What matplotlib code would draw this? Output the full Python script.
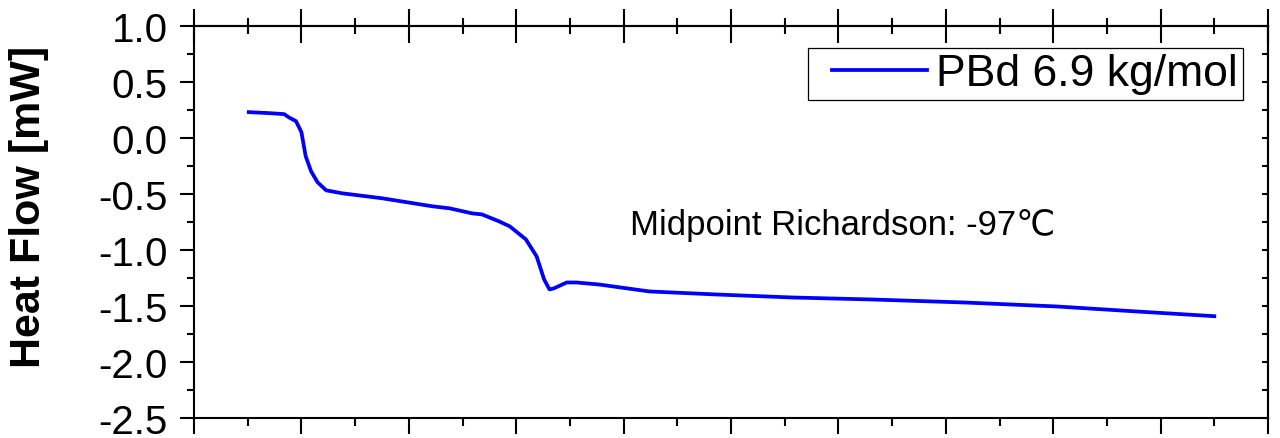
import matplotlib.pyplot as plt
from matplotlib.ticker import MultipleLocator
from matplotlib.legend_handler import HandlerLine2D

plt.rcParams['font.family'] = ['Liberation Sans', 'DejaVu Sans']

# DSC trace (temperature in C, heat flow in mW)
temp = [-124.9, -123.0, -121.6, -121.2, -120.5, -120.0, -119.6, -119.1, -118.5,
        -117.7, -116.2, -112.5, -107.8, -106.2, -104.1, -103.2, -101.6, -100.6,
        -99.1, -98.1, -97.4, -96.9, -96.5, -95.3, -94.4, -92.3, -87.6, -81.4,
        -74.3, -66.8, -58.2, -49.7, -42.2, -35.0]
heat_flow = [0.231, 0.222, 0.213, 0.186, 0.150, 0.052, -0.163, -0.297, -0.395,
             -0.467, -0.494, -0.538, -0.610, -0.628, -0.673, -0.682, -0.744, -0.789,
             -0.905, -1.057, -1.263, -1.352, -1.343, -1.290, -1.290, -1.308, -1.370,
             -1.397, -1.424, -1.442, -1.469, -1.504, -1.549, -1.591]
series_name = 'PBd 6.9 kg/mol'
note = 'Midpoint Richardson: -97\u2103'

fig = plt.figure(figsize=(12.8, 4.39), dpi=100)
ax = fig.add_axes([194 / 1280, 1 - 419 / 439, 1074 / 1280, 392 / 439])

line, = ax.plot(temp, heat_flow, color='#0000ff', lw=2.7, label=series_name,
                solid_joinstyle='round')

ax.set_xlim(-130, -30)
ax.set_ylim(-2.5, 1.0)
ax.xaxis.set_major_locator(MultipleLocator(10))
ax.xaxis.set_minor_locator(MultipleLocator(5))
ax.yaxis.set_major_locator(MultipleLocator(0.5))
ax.yaxis.set_minor_locator(MultipleLocator(0.25))
ax.yaxis.set_major_formatter(lambda v, p: f'{v:.1f}')

for s in ax.spines.values():
    s.set_linewidth(1.5)

ax.tick_params(axis='x', which='both', direction='out', width=1.5, labelbottom=False)
ax.tick_params(axis='x', which='major', length=11.5)
ax.tick_params(axis='x', which='minor', length=6)
ax.tick_params(axis='y', which='both', direction='out', width=1.5, labelsize=29, pad=9)
ax.tick_params(axis='y', which='major', length=10)
ax.tick_params(axis='y', which='minor', length=5)

# top axis: ticks crossing the spine
top = ax.secondary_xaxis('top')
top.xaxis.set_major_locator(MultipleLocator(10))
top.xaxis.set_minor_locator(MultipleLocator(5))
top.tick_params(which='both', direction='inout', width=1.5, labeltop=False)
top.tick_params(which='major', length=24)
top.tick_params(which='minor', length=11)
top.spines['top'].set_linewidth(1.5)

# right axis: short inward ticks
right = ax.secondary_yaxis('right')
right.yaxis.set_major_locator(MultipleLocator(0.5))
right.yaxis.set_minor_locator(MultipleLocator(0.25))
right.tick_params(which='both', direction='in', width=1.5, length=4.5, labelright=False)
right.spines['right'].set_linewidth(1.5)

ax.set_ylabel('Heat Flow [mW]', fontsize=31, fontweight='bold')
ax.yaxis.set_label_coords(-0.135, 0.54)

ax.text(0.406, 0.469, note, transform=ax.transAxes, fontsize=25, va='baseline')

leg = ax.legend(loc='upper right', bbox_to_anchor=(0.9767, 0.944), borderaxespad=0,
                fontsize=32, fancybox=False, frameon=True, borderpad=0.12,
                handlelength=2.55, handletextpad=0.2,
                handler_map={line: HandlerLine2D(xpad=0.42)})
leg.get_frame().set_edgecolor('black')
leg.get_frame().set_linewidth(0.9)
leg.get_frame().set_alpha(1)

fig.savefig('out.png', dpi=100)
